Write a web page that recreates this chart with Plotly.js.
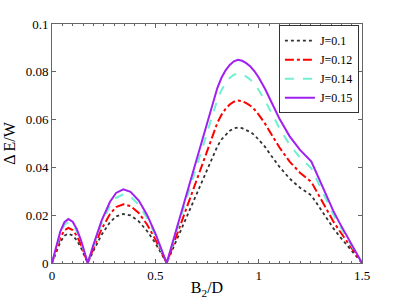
<!DOCTYPE html>
<html>
<head>
<meta charset="utf-8">
<script src="https://cdn.plot.ly/plotly-3.0.1.min.js"></script>
<style>html,body{margin:0;padding:0;background:#fff;}#chart{width:399px;height:300px;}</style>
</head>
<body>
<div id="chart"></div>
<script>
const xB = [0, 0.02, 0.04, 0.06, 0.079, 0.10, 0.12, 0.14, 0.16, 0.173, 0.20, 0.24, 0.28, 0.31, 0.345, 0.38, 0.42, 0.46, 0.50, 0.53, 0.555, 0.60, 0.65, 0.70, 0.74, 0.76, 0.78, 0.80, 0.82, 0.84, 0.86, 0.88, 0.90, 0.92, 0.94, 0.96, 0.98, 1.00, 1.03, 1.06, 1.10, 1.15, 1.20, 1.255, 1.30, 1.33, 1.36, 1.39, 1.42, 1.45, 1.48, 1.50];
const yJ010 = [0, 0.0047, 0.0087, 0.0114, 0.0123, 0.0115, 0.0095, 0.0064, 0.0027, 0, 0.0050, 0.0118, 0.0170, 0.0195, 0.0205, 0.0199, 0.0174, 0.0134, 0.0083, 0.0038, 0, 0.0090, 0.0190, 0.0290, 0.0370, 0.0408, 0.0448, 0.0488, 0.0517, 0.0537, 0.0553, 0.0563, 0.0567, 0.0564, 0.0557, 0.0548, 0.0535, 0.0517, 0.0487, 0.0450, 0.0403, 0.0353, 0.0315, 0.0283, 0.0223, 0.0183, 0.0147, 0.0113, 0.0081, 0.0051, 0.0021, 0];
const yJ012 = [0, 0.0057, 0.0105, 0.0137, 0.0147, 0.0138, 0.0114, 0.0077, 0.0032, 0, 0.0060, 0.0142, 0.0204, 0.0234, 0.0246, 0.0238, 0.0209, 0.0161, 0.0099, 0.0046, 0, 0.0108, 0.0228, 0.0348, 0.0444, 0.0490, 0.0538, 0.0586, 0.0620, 0.0645, 0.0663, 0.0675, 0.0680, 0.0677, 0.0669, 0.0658, 0.0642, 0.0621, 0.0584, 0.0540, 0.0484, 0.0424, 0.0378, 0.0339, 0.0268, 0.0220, 0.0176, 0.0136, 0.0098, 0.0062, 0.0025, 0];
const yJ014 = [0, 0.0066, 0.0122, 0.0160, 0.0172, 0.0161, 0.0133, 0.0090, 0.0037, 0, 0.0070, 0.0165, 0.0238, 0.0273, 0.0287, 0.0278, 0.0244, 0.0188, 0.0116, 0.0053, 0, 0.0126, 0.0266, 0.0406, 0.0518, 0.0571, 0.0627, 0.0683, 0.0723, 0.0752, 0.0774, 0.0788, 0.0793, 0.0790, 0.0780, 0.0767, 0.0749, 0.0724, 0.0681, 0.0630, 0.0565, 0.0495, 0.0441, 0.0396, 0.0313, 0.0257, 0.0205, 0.0159, 0.0114, 0.0072, 0.0029, 0];
const yJ015 = [0, 0.0071, 0.0131, 0.0171, 0.0184, 0.0173, 0.0142, 0.0096, 0.0040, 0, 0.0075, 0.0177, 0.0255, 0.0293, 0.0308, 0.0298, 0.0261, 0.0201, 0.0124, 0.0057, 0, 0.0135, 0.0285, 0.0435, 0.0555, 0.0612, 0.0672, 0.0732, 0.0775, 0.0806, 0.0829, 0.0844, 0.0850, 0.0846, 0.0836, 0.0822, 0.0802, 0.0776, 0.0730, 0.0675, 0.0605, 0.0530, 0.0473, 0.0424, 0.0335, 0.0275, 0.0220, 0.0170, 0.0122, 0.0077, 0.0031, 0];
const seriesNames = ['J=0.1', 'J=0.12', 'J=0.14', 'J=0.15'];
const xTicks = [0, 0.5, 1, 1.5];
const xTickText = ['0', '0.5', '1', '1.5'];
const yTicks = [0, 0.02, 0.04, 0.06, 0.08, 0.1];
const yTickText = ['0', '0.02', '0.04', '0.06', '0.08', '0.1'];

const serif = "'Liberation Serif', 'Times New Roman', Times, serif";
const traces = [
  {x: xB, y: yJ010, name: seriesNames[0], mode: 'lines', line: {color: '#333333', width: 1.8, dash: 'dot'}},
  {x: xB, y: yJ012, name: seriesNames[1], mode: 'lines', line: {color: '#ff0000', width: 2, dash: 'dashdot'}},
  {x: xB, y: yJ014, name: seriesNames[2], mode: 'lines', line: {color: '#70f0d0', width: 2, dash: 'dash'}},
  {x: xB, y: yJ015, name: seriesNames[3], mode: 'lines', line: {color: '#a020f0', width: 2}}
];
const axisCommon = {
  showgrid: false, zeroline: false, showline: true, linecolor: '#666', linewidth: 1,
  mirror: 'ticks', ticks: 'inside', ticklen: 4, tickcolor: '#666', tickwidth: 1,
  tickfont: {family: serif, size: 13, color: '#000'}
};
const layout = {
  width: 399, height: 300,
  margin: {l: 52, r: 37, t: 24, b: 37},
  paper_bgcolor: '#fff', plot_bgcolor: '#fff',
  showlegend: true,
  legend: {x: 0.99, y: 0.995, xanchor: 'right', yanchor: 'top', bgcolor: '#fff', bordercolor: '#333', borderwidth: 1,
           font: {family: serif, size: 12, color: '#000'}, tracegroupgap: 0, itemwidth: 30},
  xaxis: Object.assign({}, axisCommon, {
    range: [0, 1.5], tickvals: xTicks, ticktext: xTickText,
    minor: {dtick: 0.05, ticks: 'inside', ticklen: 2, tickcolor: '#666'},
    title: {text: 'B<sub>2</sub>/D', font: {family: serif, size: 16, color: '#000'}, standoff: 0}
  }),
  yaxis: Object.assign({}, axisCommon, {
    range: [0, 0.1], tickvals: yTicks, ticktext: yTickText,
    title: {text: 'Δ E/W', font: {family: serif, size: 16, color: '#000'}, standoff: 6}
  })
};
Plotly.newPlot('chart', traces, layout, {displayModeBar: false, staticPlot: true});
</script>
</body>
</html>
